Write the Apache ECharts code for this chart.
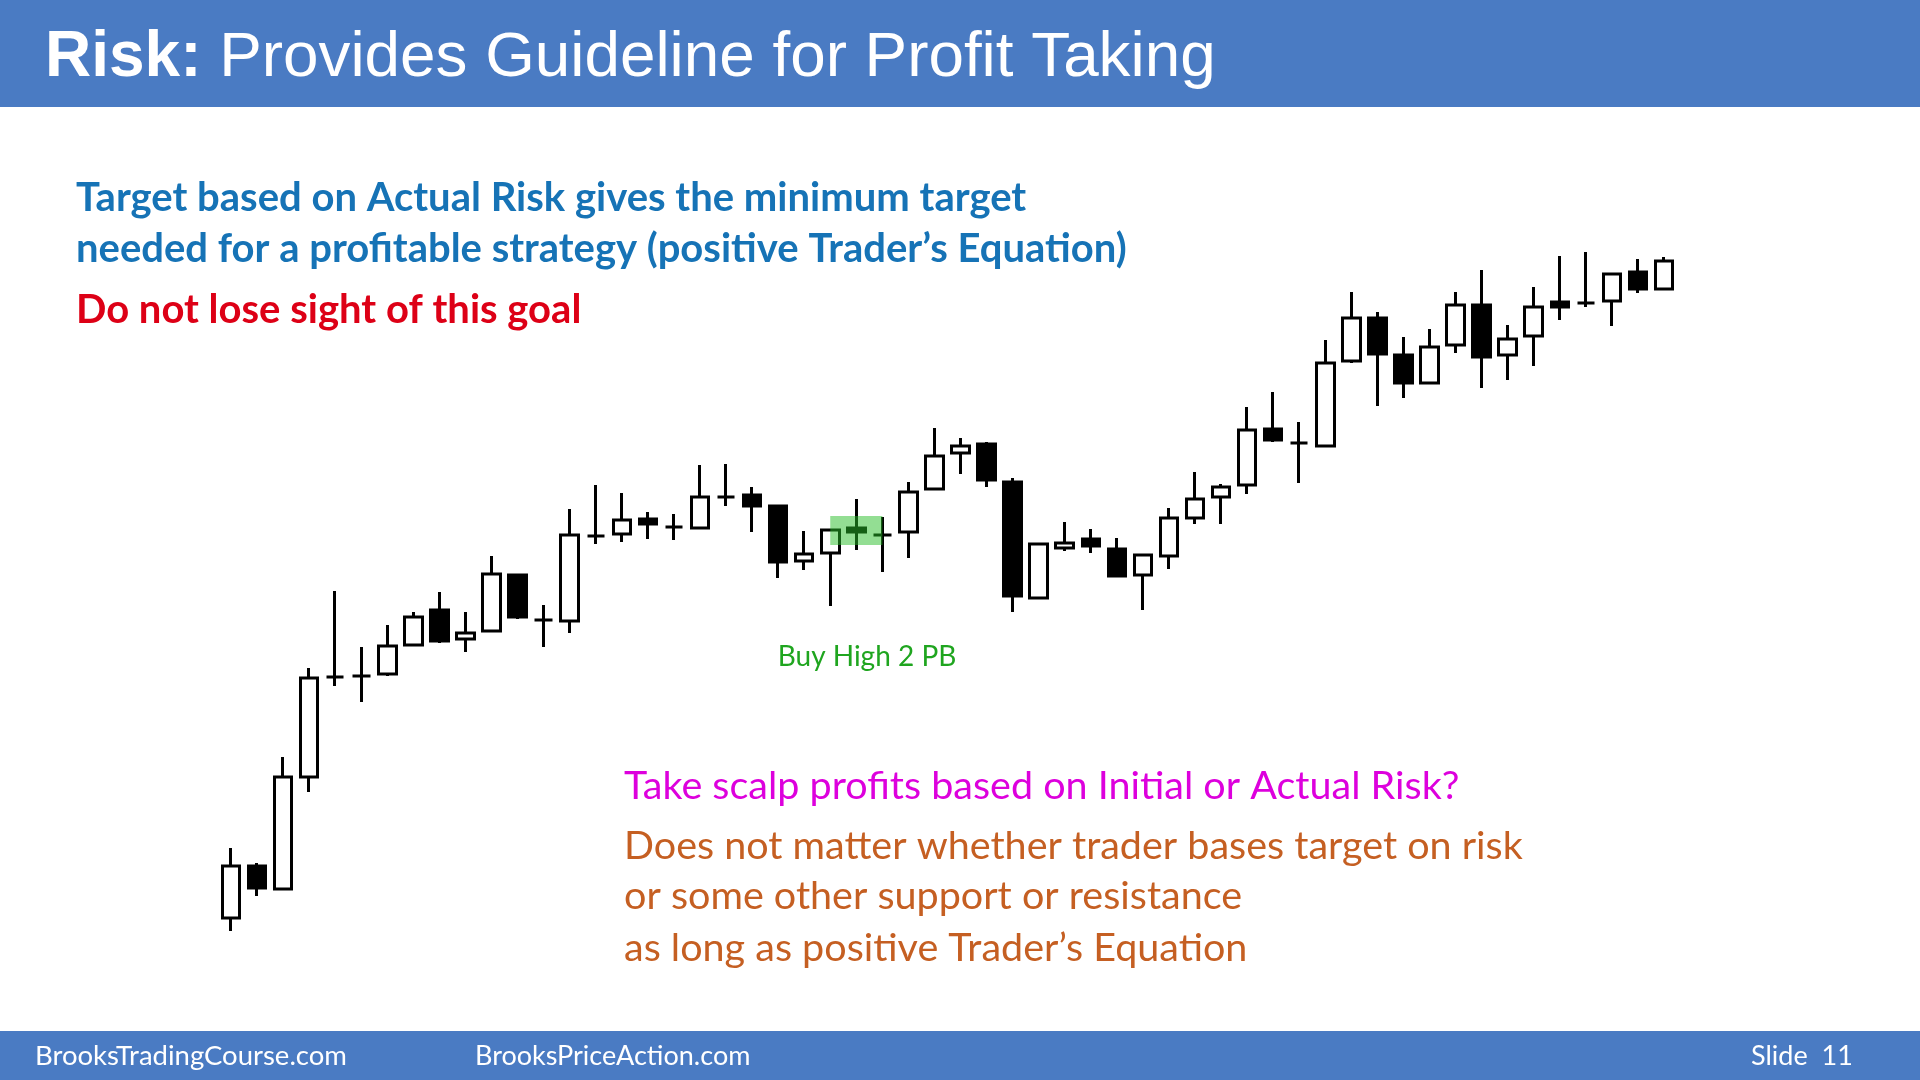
<!DOCTYPE html>
<html>
<head>
<meta charset="utf-8">
<script src="https://cdn.jsdelivr.net/npm/echarts@6/dist/echarts.min.js"></script>
<style>
html,body{margin:0;padding:0;background:#fff;}
#chart{width:1920px;height:1080px;}
</style>
</head>
<body>
<div id="chart"></div>
<script>
// Bar numbers (x categories)
const categories = [1,2,3,4,5,6,7,8,9,10,11,12,13,14,15,16,17,18,19,20,21,22,23,24,25,26,27,28,29,30,
  31,32,33,34,35,36,37,38,39,40,41,42,43,44,45,46,47,48,49,50,51,52,53,54,55,56];
// Prices (arbitrary chart units)
const opens  = [82,134,111,223,323,324,326,355,390,361,369,425,380,379,464,466,481,473,472,503,505,494,439,447,472,465,468,511,547,556,
  518,402,452,461,451,425,444,482,503,515,571,557,554,639,682,645,617,655,695,645,664,698,697,699,728,711];
const closes = [134,112,223,322,323,324,354,383,359,367,426,383,380,465,464,480,476,473,503,503,494,438,446,470,468,465,508,544,554,520,
  404,456,457,454,424,445,482,501,513,570,560,557,637,682,646,617,653,695,643,661,693,693,697,726,711,739];
const lows   = [69,104,111,208,314,298,324,355,357,348,369,381,353,367,456,458,461,460,472,494,468,422,430,394,450,428,442,511,526,513,
  388,402,449,447,424,390,431,476,476,506,558,517,554,637,594,602,616,647,612,620,634,680,693,674,707,711];
const highs  = [152,137,243,332,409,353,375,388,408,388,444,426,395,491,515,507,488,486,535,536,513,495,469,470,501,483,518,572,562,558,
  522,456,478,471,462,446,492,528,516,593,608,578,660,708,688,663,671,708,730,675,713,744,748,726,741,743];
// Highlighted "Buy High 2 PB" zone: [fromBar, toBar, lowPrice, highPrice]
const highlightZone = [[23, 25.1, 455, 484]];

const candleData = opens.map((o, i) => [o, closes[i], lows[i], highs[i]]);

const chart = echarts.init(document.getElementById('chart'), null, {renderer: 'canvas'});
const calib = 'Lato, "Noto Sans", sans-serif';
chart.setOption({
  animation: false,
  backgroundColor: '#ffffff',
  grid: {left: 218, width: 1459, top: 200, height: 800},
  xAxis: {type: 'category', data: categories, boundaryGap: true,
    axisLine: {show: false}, axisTick: {show: false}, axisLabel: {show: false}, splitLine: {show: false}},
  yAxis: {type: 'value', min: 0, max: 800, show: false, splitLine: {show: false}},
  series: [
    {
      type: 'candlestick',
      data: candleData,
      barWidth: 18,
      itemStyle: {
        color: '#ffffff', color0: '#000000',
        borderColor: '#000000', borderColor0: '#000000', borderColorDoji: '#000000',
        borderWidth: 3
      },
      z: 2
    },
    {
      type: 'custom',
      data: highlightZone,
      encode: {x: [0, 1], y: [2, 3]},
      z: 5,
      renderItem: function (params, api) {
        const p1 = api.coord([api.value(0), api.value(3)]);
        const p2 = api.coord([api.value(1), api.value(2)]);
        return {type: 'rect', shape: {x: p1[0], y: p1[1], width: p2[0] - p1[0], height: p2[1] - p1[1]},
          style: {fill: 'rgba(40,190,40,0.5)'}};
      }
    }
  ],
  graphic: [
    {type: 'rect', shape: {x: 0, y: 0, width: 1920, height: 107}, style: {fill: '#4a7bc3'}, z: 0},
    {type: 'rect', shape: {x: 0, y: 1031, width: 1920, height: 49}, style: {fill: '#4a7bc3'}, z: 0},
    {type: 'text', x: 45, y: 58, z: 10, style: {
      text: '{b|Risk:}{r|\u00a0Provides Guideline for Profit Taking}',
      verticalAlign: 'middle', align: 'left',
      rich: {
        b: {font: 'bold 64px "Liberation Sans", Arial, sans-serif', fill: '#ffffff'},
        r: {font: '63.8px "Liberation Sans", Arial, sans-serif', fill: '#ffffff'}
      }
    }},
    {type: 'text', x: 76, y: 198, z: 10, style: {text: 'Target based on Actual Risk gives the minimum target',
      font: 'bold 40px ' + calib, fill: '#1673b6', verticalAlign: 'middle'}},
    {type: 'text', x: 76, y: 249, z: 10, style: {text: 'needed for a profitable strategy (positive Trader\u2019s Equation)',
      font: 'bold 40px ' + calib, fill: '#1673b6', verticalAlign: 'middle'}},
    {type: 'text', x: 76, y: 310, z: 10, style: {text: 'Do not lose sight of this goal',
      font: 'bold 40px ' + calib, fill: '#dd0016', verticalAlign: 'middle'}},
    {type: 'text', x: 867, y: 657, z: 10, style: {text: 'Buy High 2 PB',
      font: '28px ' + calib, fill: '#1fa51f', verticalAlign: 'middle', align: 'center'}},
    {type: 'text', x: 624, y: 786, z: 10, style: {text: 'Take scalp profits based on Initial or Actual Risk?',
      font: '39.5px ' + calib, fill: '#dd00dd', verticalAlign: 'middle'}},
    {type: 'text', x: 624, y: 846, z: 10, style: {text: 'Does not matter whether trader bases target on risk',
      font: '39.5px ' + calib, fill: '#c55f22', verticalAlign: 'middle'}},
    {type: 'text', x: 624, y: 896, z: 10, style: {text: 'or some other support or resistance',
      font: '39.5px ' + calib, fill: '#c55f22', verticalAlign: 'middle'}},
    {type: 'text', x: 624, y: 948, z: 10, style: {text: 'as long as positive Trader\u2019s Equation',
      font: '39.5px ' + calib, fill: '#c55f22', verticalAlign: 'middle'}},
    {type: 'text', x: 35, y: 1056, z: 10, style: {text: 'BrooksTradingCourse.com',
      font: '27.5px ' + calib, fill: '#ffffff', verticalAlign: 'middle'}},
    {type: 'text', x: 475, y: 1056, z: 10, style: {text: 'BrooksPriceAction.com',
      font: '27px ' + calib, fill: '#ffffff', verticalAlign: 'middle'}},
    {type: 'text', x: 1751, y: 1056, z: 10, style: {text: 'Slide  11',
      font: '27px ' + calib, fill: '#ffffff', verticalAlign: 'middle'}}
  ]
});
</script>
</body>
</html>
